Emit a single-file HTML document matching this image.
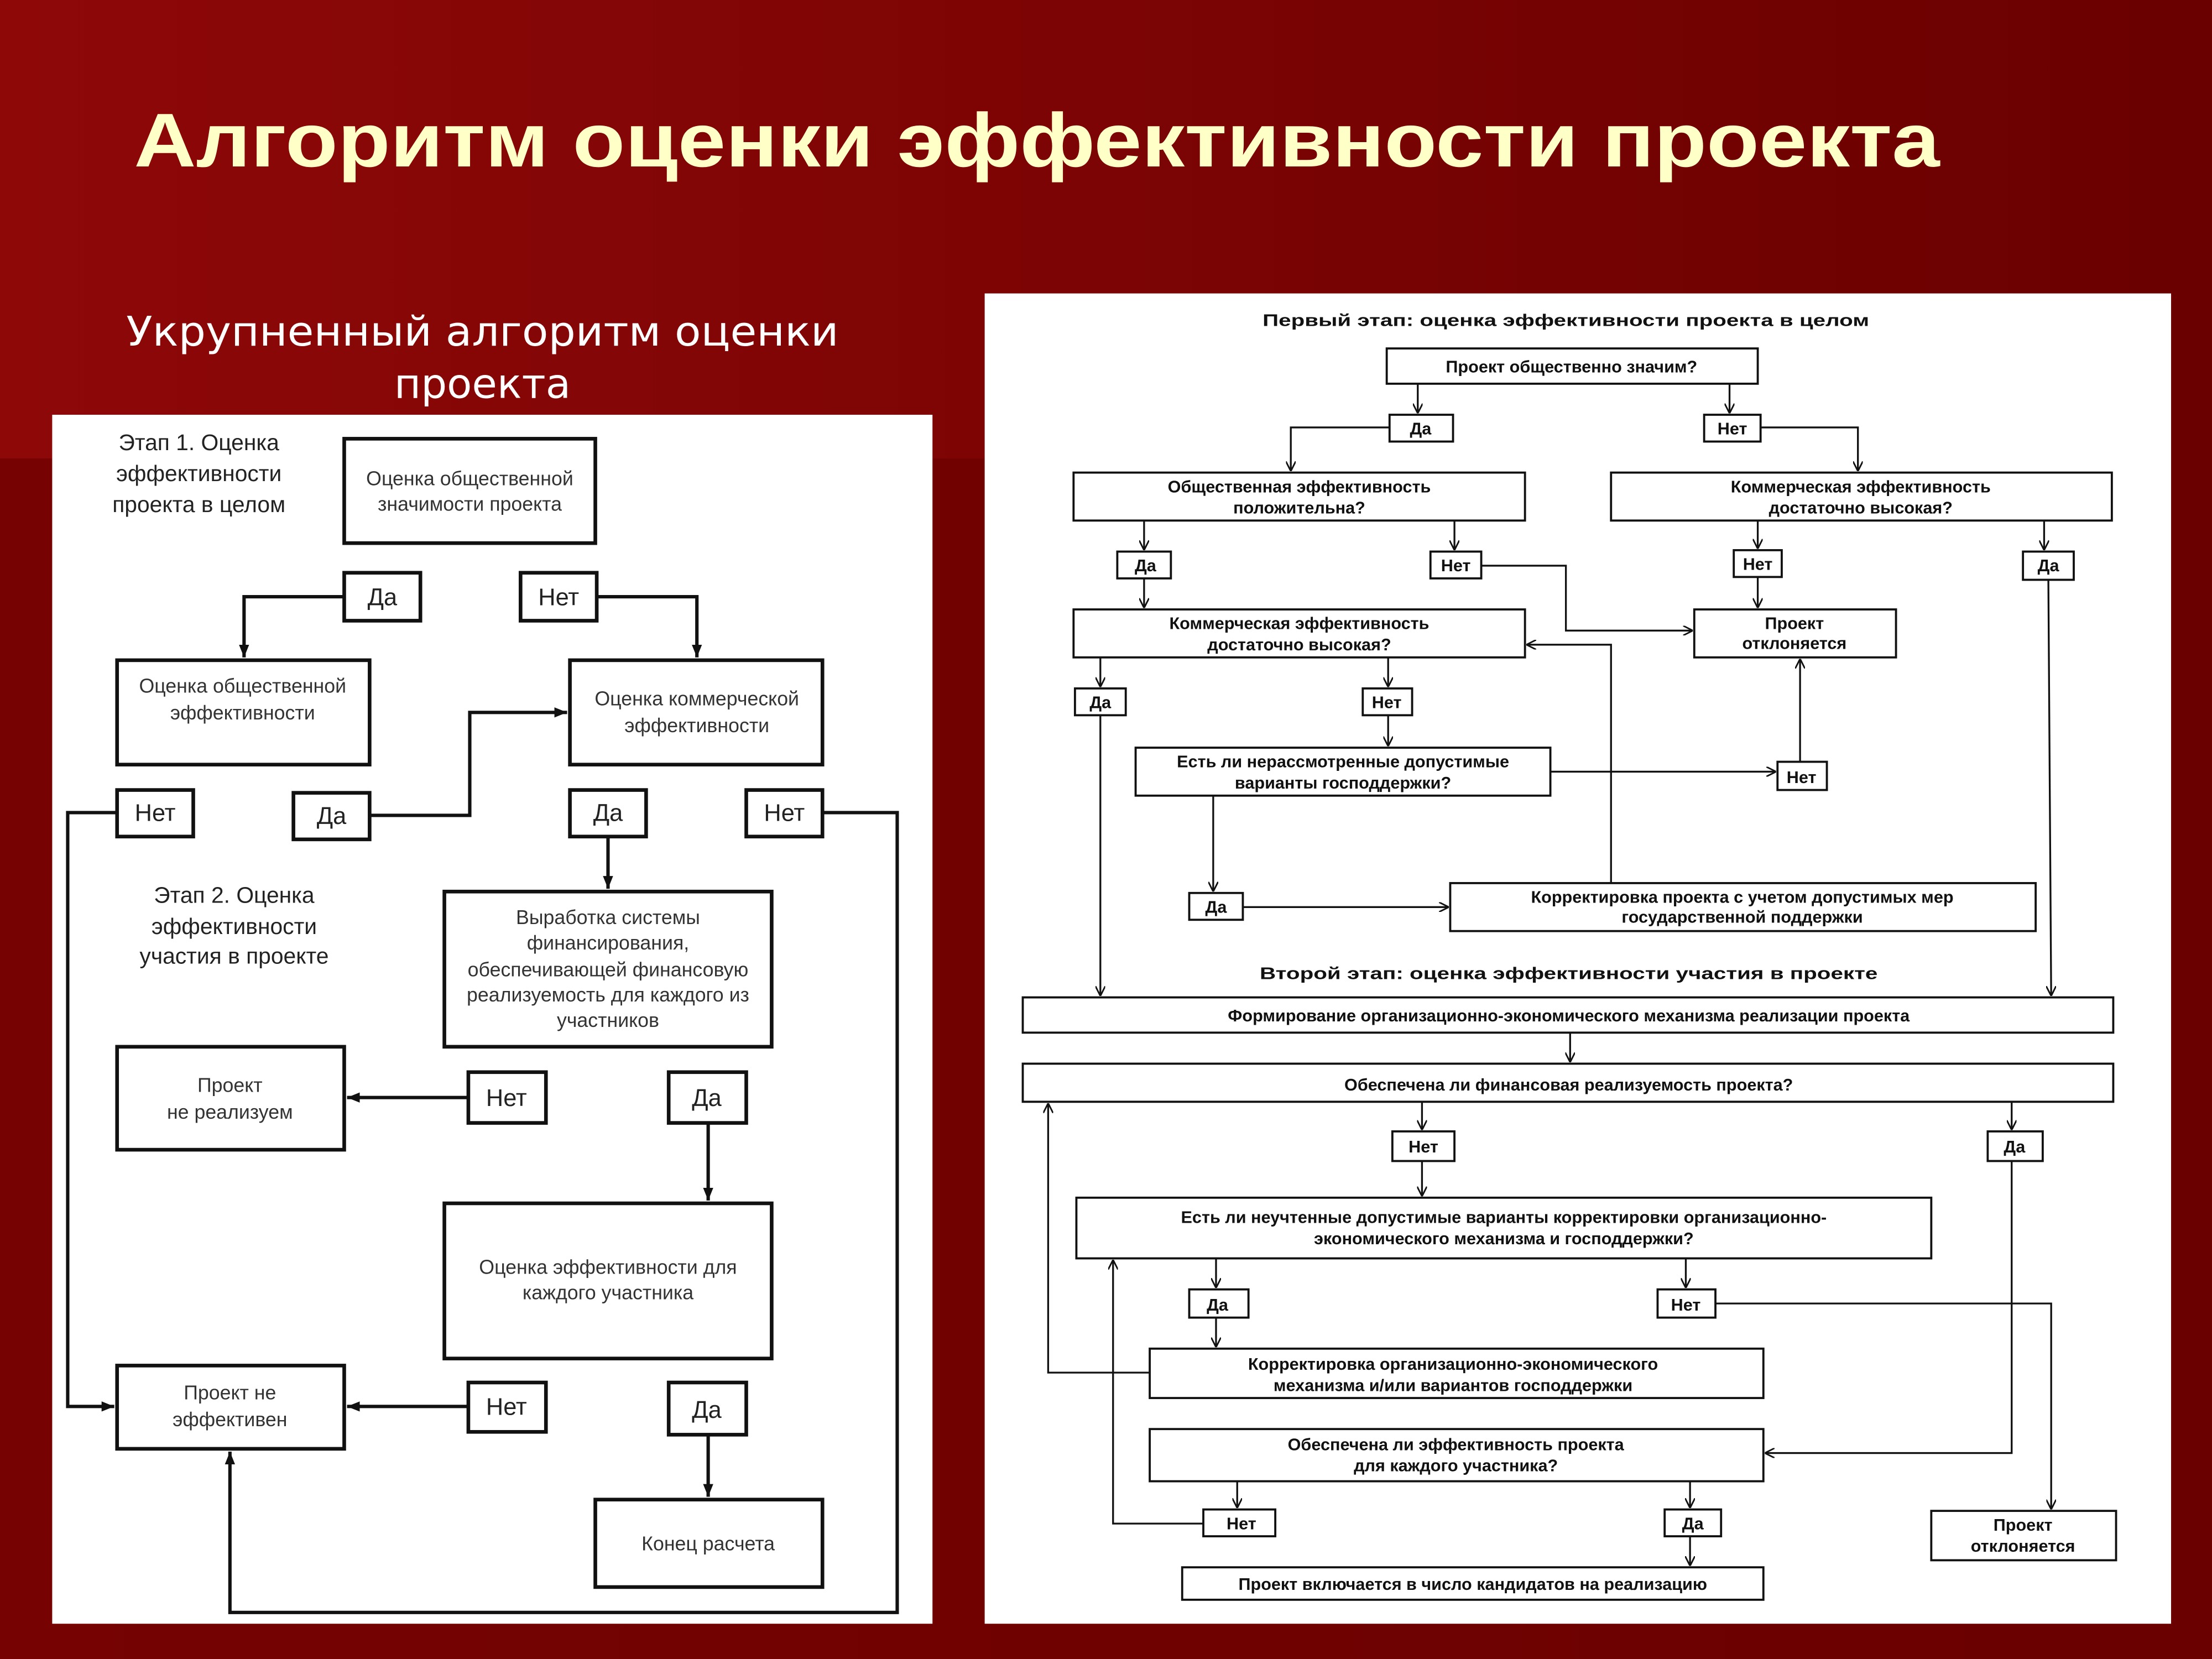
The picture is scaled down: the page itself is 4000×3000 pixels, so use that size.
<!DOCTYPE html>
<html><head><meta charset="utf-8"><style>html,body{margin:0;padding:0;background:#7a0000}svg{display:block}</style></head>
<body>
<svg xmlns="http://www.w3.org/2000/svg" width="4000" height="3000" viewBox="0 0 1568 1176" preserveAspectRatio="none">
<defs>
<linearGradient id="bg" x1="0" y1="0" x2="1" y2="0"><stop offset="0" stop-color="#8e0808"/><stop offset="1" stop-color="#6a0000"/></linearGradient>
<linearGradient id="bg2" x1="0" y1="0" x2="1" y2="0"><stop offset="0" stop-color="#760202"/><stop offset="1" stop-color="#6a0000"/></linearGradient>
<marker id="a" viewBox="0 0 10 10" refX="10" refY="5" markerWidth="7" markerHeight="7" orient="auto" markerUnits="userSpaceOnUse"><path d="M0,0 L10,5 L0,10" fill="none" stroke="#111" stroke-width="1.6"/></marker>
<marker id="b" viewBox="0 0 10 10" refX="10" refY="5" markerWidth="9" markerHeight="9" orient="auto" markerUnits="userSpaceOnUse"><path d="M0,1 L10,5 L0,9 Z" fill="#111"/></marker>
</defs>
<rect width="1568" height="1176" fill="url(#bg)"/>
<rect x="0" y="325" width="1568" height="851" fill="url(#bg2)"/>
<text x="95" y="118" font-family="Liberation Sans, sans-serif" font-weight="bold" font-size="54" fill="#ffffc8" textLength="1280" lengthAdjust="spacingAndGlyphs">Алгоритм оценки эффективности проекта</text>
<g font-family="DejaVu Sans, sans-serif" font-size="29" fill="#fff" text-anchor="middle">
<text x="342" y="245" textLength="505" lengthAdjust="spacingAndGlyphs">Укрупненный алгоритм оценки</text>
<text x="342" y="282">проекта</text>
</g>
<rect x="37" y="294" width="624" height="857" fill="#fff"/>
<rect x="698" y="208" width="841" height="943" fill="#fff"/>

<!-- LEFT -->
<g fill="none" stroke="#111" stroke-width="2.6">
<rect x="244" y="311" width="178" height="74"/>
<rect x="244" y="406" width="54" height="34"/>
<rect x="369" y="406" width="54" height="34"/>
<rect x="83" y="468" width="179" height="74"/>
<rect x="404" y="468" width="179" height="74"/>
<rect x="83" y="560" width="54" height="33"/>
<rect x="208" y="562" width="54" height="33"/>
<rect x="404" y="560" width="54" height="33"/>
<rect x="529" y="560" width="54" height="33"/>
<rect x="315" y="632" width="232" height="110"/>
<rect x="83" y="742" width="161" height="73"/>
<rect x="332" y="760" width="55" height="36"/>
<rect x="474" y="760" width="55" height="36"/>
<rect x="315" y="853" width="232" height="110"/>
<rect x="83" y="968" width="161" height="59"/>
<rect x="332" y="980" width="55" height="35"/>
<rect x="474" y="980" width="55" height="37"/>
<rect x="422" y="1063" width="161" height="62"/>
</g>
<g fill="none" stroke="#111" stroke-width="2.4">
<polyline points="244,423 173,423 173,466" marker-end="url(#b)"/>
<polyline points="423,423 494,423 494,466" marker-end="url(#b)"/>
<polyline points="83,576 48,576 48,997 81,997" marker-end="url(#b)"/>
<polyline points="262,578 333,578 333,505 402,505" marker-end="url(#b)"/>
<polyline points="431,593 431,630" marker-end="url(#b)"/>
<polyline points="583,576 636,576 636,1143 163,1143 163,1029" marker-end="url(#b)"/>
<polyline points="332,778 246,778" marker-end="url(#b)"/>
<polyline points="502,796 502,851" marker-end="url(#b)"/>
<polyline points="332,997 246,997" marker-end="url(#b)"/>
<polyline points="502,1017 502,1061" marker-end="url(#b)"/>
</g>
<g font-family="Liberation Sans, sans-serif" font-size="16" fill="#222" text-anchor="middle">
<text x="141" y="319">Этап 1. Оценка</text>
<text x="141" y="341">эффективности</text>
<text x="141" y="363">проекта в целом</text>
<text x="166" y="640">Этап 2. Оценка</text>
<text x="166" y="662">эффективности</text>
<text x="166" y="683">участия в проекте</text>
<text x="271" y="429" font-size="17">Да</text>
<text x="396" y="429" font-size="17">Нет</text>
<text x="110" y="582" font-size="17">Нет</text>
<text x="235" y="584" font-size="17">Да</text>
<text x="431" y="582" font-size="17">Да</text>
<text x="556" y="582" font-size="17">Нет</text>
<text x="359" y="784" font-size="17">Нет</text>
<text x="501" y="784" font-size="17">Да</text>
<text x="359" y="1003" font-size="17">Нет</text>
<text x="501" y="1005" font-size="17">Да</text>
</g>
<g font-family="Liberation Sans, sans-serif" font-size="14" fill="#333" text-anchor="middle">
<text x="333" y="344">Оценка общественной</text>
<text x="333" y="362">значимости проекта</text>
<text x="172" y="491">Оценка общественной</text>
<text x="172" y="510">эффективности</text>
<text x="494" y="500">Оценка коммерческой</text>
<text x="494" y="519">эффективности</text>
<text x="431" y="655">Выработка системы</text>
<text x="431" y="673">финансирования,</text>
<text x="431" y="692">обеспечивающей финансовую</text>
<text x="431" y="710">реализуемость для каждого из</text>
<text x="431" y="728">участников</text>
<text x="163" y="774">Проект</text>
<text x="163" y="793">не реализуем</text>
<text x="431" y="903">Оценка эффективности для</text>
<text x="431" y="921">каждого участника</text>
<text x="163" y="992">Проект не</text>
<text x="163" y="1011">эффективен</text>
<text x="502" y="1099">Конец расчета</text>
</g>

<!-- RIGHT -->
<g fill="none" stroke="#111" stroke-width="1.5">
<rect x="983" y="247" width="263" height="25"/>
<rect x="985" y="294" width="45" height="19"/>
<rect x="1208" y="294" width="40" height="19"/>
<rect x="761" y="335" width="320" height="34"/>
<rect x="1142" y="335" width="355" height="34"/>
<rect x="792" y="391" width="38" height="19"/>
<rect x="1014" y="391" width="36" height="19"/>
<rect x="1229" y="390" width="34" height="19"/>
<rect x="1434" y="391" width="36" height="20"/>
<rect x="761" y="432" width="320" height="34"/>
<rect x="1201" y="432" width="143" height="34"/>
<rect x="762" y="488" width="36" height="19"/>
<rect x="966" y="488" width="35" height="19"/>
<rect x="805" y="530" width="294" height="34"/>
<rect x="1260" y="540" width="35" height="20"/>
<rect x="843" y="633" width="38" height="19"/>
<rect x="1028" y="626" width="415" height="34"/>
<rect x="725" y="707" width="773" height="25"/>
<rect x="725" y="754" width="773" height="27"/>
<rect x="987" y="802" width="44" height="21"/>
<rect x="1409" y="802" width="39" height="21"/>
<rect x="763" y="849" width="606" height="43"/>
<rect x="843" y="914" width="42" height="20"/>
<rect x="1175" y="914" width="41" height="20"/>
<rect x="815" y="956" width="435" height="35"/>
<rect x="815" y="1013" width="435" height="37"/>
<rect x="1369" y="1071" width="131" height="35"/>
<rect x="853" y="1070" width="51" height="19"/>
<rect x="1180" y="1070" width="40" height="19"/>
<rect x="838" y="1111" width="412" height="23"/>
</g>
<g fill="none" stroke="#111" stroke-width="1.3">
<polyline points="1005,272 1005,293" marker-end="url(#a)"/>
<polyline points="1226,272 1226,293" marker-end="url(#a)"/>
<polyline points="985,303 915,303 915,334" marker-end="url(#a)"/>
<polyline points="1248,303 1317,303 1317,334" marker-end="url(#a)"/>
<polyline points="811,369 811,390" marker-end="url(#a)"/>
<polyline points="1031,369 1031,390" marker-end="url(#a)"/>
<polyline points="1246,369 1246,389" marker-end="url(#a)"/>
<polyline points="1449,369 1449,390" marker-end="url(#a)"/>
<polyline points="811,410 811,431" marker-end="url(#a)"/>
<polyline points="1050,401 1110,401 1110,447 1200,447" marker-end="url(#a)"/>
<polyline points="1246,409 1246,431" marker-end="url(#a)"/>
<polyline points="1452,411 1454,706" marker-end="url(#a)"/>
<polyline points="780,466 780,487" marker-end="url(#a)"/>
<polyline points="984,466 984,487" marker-end="url(#a)"/>
<polyline points="780,507 780,706" marker-end="url(#a)"/>
<polyline points="984,507 984,529" marker-end="url(#a)"/>
<polyline points="1099,547 1259,547" marker-end="url(#a)"/>
<polyline points="1276,540 1276,467" marker-end="url(#a)"/>
<polyline points="860,564 860,632" marker-end="url(#a)"/>
<polyline points="881,643 1027,643" marker-end="url(#a)"/>
<polyline points="1142,626 1142,457 1082,457" marker-end="url(#a)"/>
<polyline points="1113,732 1113,753" marker-end="url(#a)"/>
<polyline points="1008,781 1008,801" marker-end="url(#a)"/>
<polyline points="1426,781 1426,801" marker-end="url(#a)"/>
<polyline points="1008,823 1008,848" marker-end="url(#a)"/>
<polyline points="862,892 862,913" marker-end="url(#a)"/>
<polyline points="1195,892 1195,913" marker-end="url(#a)"/>
<polyline points="862,934 862,955" marker-end="url(#a)"/>
<polyline points="815,973 743,973 743,782" marker-end="url(#a)"/>
<polyline points="1216,924 1454,924 1454,1070" marker-end="url(#a)"/>
<polyline points="1426,823 1426,1030 1251,1030" marker-end="url(#a)"/>
<polyline points="877,1050 877,1069" marker-end="url(#a)"/>
<polyline points="1198,1050 1198,1069" marker-end="url(#a)"/>
<polyline points="853,1080 789,1080 789,893" marker-end="url(#a)"/>
<polyline points="1198,1089 1198,1110" marker-end="url(#a)"/>
</g>
<g font-family="Liberation Sans, sans-serif" font-weight="bold" font-size="12" fill="#111" text-anchor="middle">
<text x="1110" y="231" textLength="430" lengthAdjust="spacingAndGlyphs">Первый этап: оценка эффективности проекта в целом</text>
<text x="1112" y="694" textLength="438" lengthAdjust="spacingAndGlyphs">Второй этап: оценка эффективности участия в проекте</text>
</g>
<g font-family="Liberation Sans, sans-serif" font-weight="bold" font-size="12" fill="#111" text-anchor="middle">
<text x="1114" y="264">Проект общественно значим?</text>
<text x="1007" y="308">Да</text>
<text x="1228" y="308">Нет</text>
<text x="921" y="349">Общественная эффективность</text>
<text x="921" y="364">положительна?</text>
<text x="1319" y="349">Коммерческая эффективность</text>
<text x="1319" y="364">достаточно высокая?</text>
<text x="812" y="405">Да</text>
<text x="1032" y="405">Нет</text>
<text x="1246" y="404">Нет</text>
<text x="1452" y="405">Да</text>
<text x="921" y="446">Коммерческая эффективность</text>
<text x="921" y="461">достаточно высокая?</text>
<text x="1272" y="446">Проект</text>
<text x="1272" y="460">отклоняется</text>
<text x="780" y="502">Да</text>
<text x="983" y="502">Нет</text>
<text x="952" y="544">Есть ли нерассмотренные допустимые</text>
<text x="952" y="559">варианты господдержки?</text>
<text x="1277" y="555">Нет</text>
<text x="862" y="647">Да</text>
<text x="1235" y="640">Корректировка проекта с учетом допустимых мер</text>
<text x="1235" y="654">государственной поддержки</text>
<text x="1112" y="724">Формирование организационно-экономического механизма реализации проекта</text>
<text x="1112" y="773">Обеспечена ли финансовая реализуемость проекта?</text>
<text x="1009" y="817">Нет</text>
<text x="1428" y="817">Да</text>
<text x="1066" y="867">Есть ли неучтенные допустимые варианты корректировки организационно-</text>
<text x="1066" y="882">экономического механизма и господдержки?</text>
<text x="863" y="929">Да</text>
<text x="1195" y="929">Нет</text>
<text x="1030" y="971">Корректировка организационно-экономического</text>
<text x="1030" y="986">механизма и/или вариантов господдержки</text>
<text x="1032" y="1028">Обеспечена ли эффективность проекта</text>
<text x="1032" y="1043">для каждого участника?</text>
<text x="880" y="1084">Нет</text>
<text x="1200" y="1084">Да</text>
<text x="1434" y="1085">Проект</text>
<text x="1434" y="1100">отклоняется</text>
<text x="1044" y="1127">Проект включается в число кандидатов на реализацию</text>
</g>
</svg>
</body></html>
